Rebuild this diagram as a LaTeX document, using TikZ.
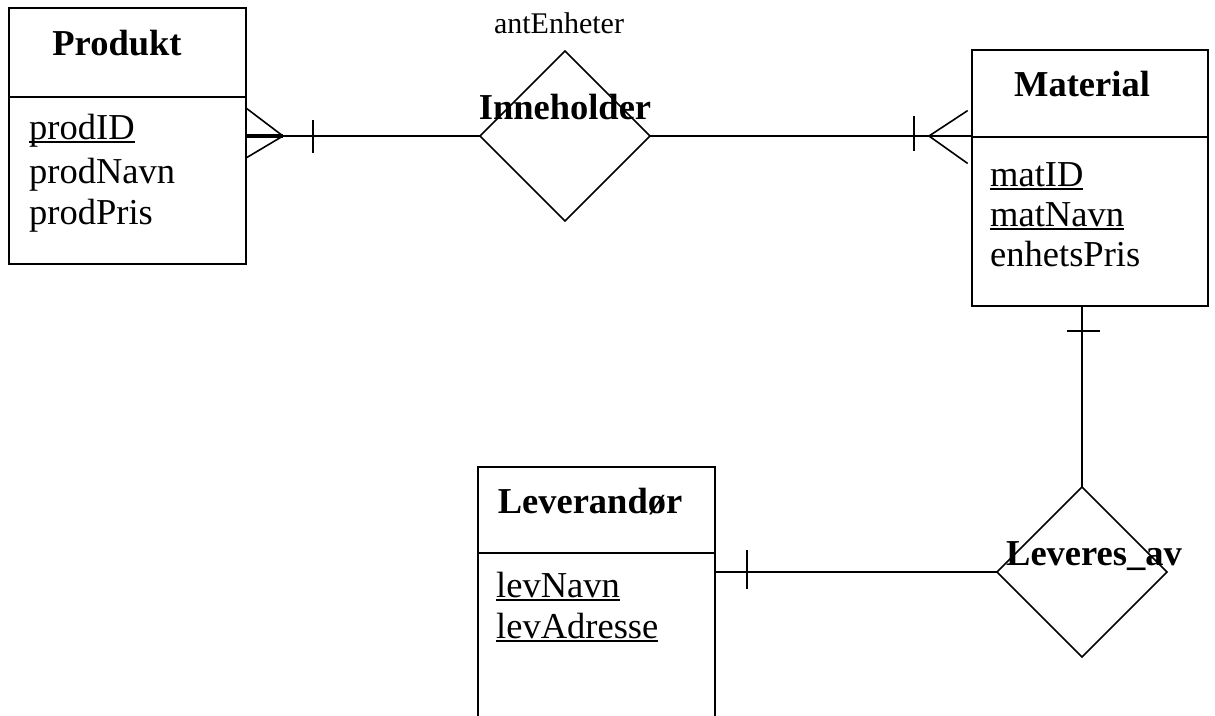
\documentclass[tikz,border=0pt]{standalone}
\usepackage{fontspec}
\setmainfont{Liberation Serif}
\usetikzlibrary{shapes.geometric,calc}
\tikzset{
  ln/.style={line width=1.6pt, line cap=rect},
  ebox/.style={draw, line width=1.6pt, rectangle, inner sep=0pt, outer sep=0pt, anchor=north west},
  rel/.style={draw, line width=1.6pt, diamond, aspect=1, inner sep=0pt, outer sep=0pt, minimum width=170pt, minimum height=170pt},
  ttl/.style={anchor=base, inner sep=0pt, font=\fontsize{36.5}{42}\selectfont\bfseries},
  attr/.style={anchor=base west, inner sep=0pt, font=\fontsize{36.5}{42}\selectfont},
  small/.style={anchor=base, inner sep=0pt, font=\fontsize{30}{34}\selectfont},
}
\newcommand{\ul}[1]{\setbox0\hbox{#1}\rlap{\rule[-4pt]{\wd0}{2pt}}\box0}
\begin{document}
\begin{tikzpicture}[x=1pt, y=-1pt]
\clip (0,0) rectangle (1215,715);
\fill[white] (0,0) rectangle (1215,715);
% entities
\node[ebox, minimum width=237pt, minimum height=256pt] (prod) at (9,8) {};
\coordinate (prodDivL) at (9,97);
\draw[ln] (prodDivL) -- (prodDivL -| prod.east);
\node[ttl] (prodT) at (117,55) {Produkt};
\node[attr] (pa1) at (29,139) {\ul{prodID}};
\node[attr] (pa2) at (29,183) {prodNavn};
\node[attr] (pa3) at (29,224) {prodPris};

\node[ebox, minimum width=236pt, minimum height=256pt] (mat) at (972,50) {};
\coordinate (matDivL) at (972,137);
\draw[ln] (matDivL) -- (matDivL -| mat.east);
\node[ttl] (matT) at (1082,96) {Material};
\node[attr] (ma1) at (990,186) {\ul{matID}};
\node[attr] (ma2) at (990,226) {\ul{matNavn}};
\node[attr] (ma3) at (990,266) {enhetsPris};

\node[ebox, minimum width=237pt, minimum height=270pt] (levr) at (478,467) {};
\coordinate (levrDivL) at (478,553);
\draw[ln] (levrDivL) -- (levrDivL -| levr.east);
\node[ttl] (levrT) at (590,513) {Leverand\o r};
\node[attr] (la1) at (496,597) {\ul{levNavn}};
\node[attr] (la2) at (496,638) {\ul{levAdresse}};

% relationships
\node[rel] (inn) at (565,136) {};
\node[ttl] (innT) at (565,119) {Inneholder};
\node[small] (innA) at (559,33) {antEnheter};
\node[rel] (lev) at (1082,572) {};
\node[ttl] (levT) at (1094,565) {Leveres\_av};

% Produkt -- Inneholder (many, mandatory)
\draw[ln] (prod.east) -- (inn.west);
\draw[line width=3.5pt] (prod.east) -- ++(37,0) coordinate (pV);
\draw[ln] (prod.east |- 0,108) -- (pV) -- (prod.east |- 0,158);
\draw[ln] ($(prod.east)+(67,-15)$) -- ++(0,31);

% Inneholder -- Material (many, mandatory)
\coordinate (matIn) at (mat.west |- inn.east);
\draw[ln] (inn.east) -- (matIn);
\coordinate (mV) at ($(matIn)+(-43,0)$);
\draw[ln] ($(matIn)+(-5,-25)$) -- (mV) -- ($(matIn)+(-5,27)$);
\draw[ln] ($(matIn)+(-58,-19)$) -- ++(0,33);

% Material -- Leveres_av (one)
\coordinate (matOut) at (lev.north |- mat.south);
\draw[ln] (matOut) -- (lev.north);
\draw[ln] ($(matOut)+(-14,25)$) -- ++(31,0);

% Leverandor -- Leveres_av (one)
\coordinate (levrOut) at (levr.east |- lev.west);
\draw[ln] (levrOut) -- (lev.west);
\draw[ln] ($(levrOut)+(32,-21)$) -- ++(0,37);
\end{tikzpicture}
\end{document}
